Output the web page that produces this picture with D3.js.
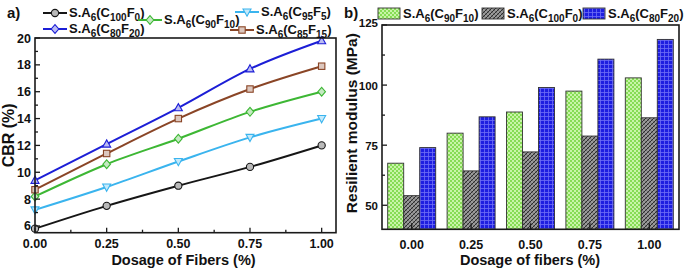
<!DOCTYPE html>
<html><head><meta charset="utf-8">
<script src="https://cdn.jsdelivr.net/npm/d3@7/dist/d3.min.js"></script>
<style>
body{margin:0;background:#fff}
svg{display:block;font-family:"Liberation Sans",Arial,sans-serif;font-weight:bold}
</style></head>
<body><svg id="c" width="685" height="272"></svg>
<script>
// ---------- data ----------
const dosage = [0, 0.25, 0.5, 0.75, 1.0];
const cbrTicks = [6, 8, 10, 12, 14, 16, 18, 20];
const dosageTicks = [0, 0.25, 0.5, 0.75, 1.0];
const cbrC100F0 = [5.8, 7.5, 9.0, 10.4, 12.0];
const cbrC95F5  = [7.2, 8.9, 10.8, 12.6, 14.0];
const cbrC90F10 = [8.2, 10.6, 12.5, 14.5, 16.0];
const cbrC85F15 = [8.7, 11.4, 14.0, 16.2, 17.9];
const cbrC80F20 = [9.4, 12.1, 14.8, 17.7, 19.8];

const dosageCats = ["0.00", "0.25", "0.50", "0.75", "1.00"];
const mrTicks = [50, 75, 100, 125];
const mrC90F10  = [67.5, 80.0, 88.8, 97.5, 103.0];
const mrC100F0  = [54.0, 64.3, 72.2, 78.8, 86.4];
const mrC80F20  = [74.0, 86.8, 99.0, 110.8, 119.0];

// label parts: [text, isSub]
const lab = (c, f) => [["S.A",0],["6",1],["(C",0],[c,1],["F",0],[f,1],[")",0]];

const svg = d3.select("#c");
const defs = svg.append("defs");

function richText(g, parts, x, y, size, subSize, anchor) {
  const t = g.append("text").attr("x", x).attr("y", y).attr("font-size", size)
    .attr("text-anchor", anchor || "start").attr("fill", "#111");
  let sub = false;
  parts.forEach(([s, isSub]) => {
    const ts = t.append("tspan").text(s);
    if (isSub && !sub) { ts.attr("dy", 3.5).attr("font-size", subSize); sub = true; }
    else if (isSub) { ts.attr("font-size", subSize); }
    else if (!isSub && sub) { ts.attr("dy", -3.5); sub = false; }
  });
  return t;
}

// ---------- markers ----------
function marker(g, type, x, y, color) {
  const s = 3.6;
  let el;
  if (type === "circle") el = g.append("circle").attr("cx", x).attr("cy", y).attr("r", s);
  else if (type === "square") el = g.append("rect").attr("x", x - s + 0.4).attr("y", y - s + 0.4).attr("width", 2*s - 0.8).attr("height", 2*s - 0.8);
  else {
    let pts;
    if (type === "diamond") pts = [[x, y - s - 0.8], [x + s + 0.2, y], [x, y + s + 0.8], [x - s - 0.2, y]];
    else if (type === "up") pts = [[x, y - s - 0.6], [x + s + 0.4, y + s - 0.6], [x - s - 0.4, y + s - 0.6]];
    else pts = [[x, y + s + 0.6], [x + s + 0.4, y - s + 0.6], [x - s - 0.4, y - s + 0.6]];
    el = g.append("polygon").attr("points", pts.map(p => p.join(",")).join(" "));
  }
  const f = d3.interpolateRgb(color, "#fff")(0.7);
  el.attr("fill", f).attr("stroke", color).attr("stroke-width", 1.1);
}

// ================= LEFT CHART (a) =================
const L = {x0: 35, x1: 336, y0: 38, y1: 232.7};
const xL = d3.scaleLinear().domain([0, 1.05]).range([L.x0, L.x1]);
const yL = d3.scaleLinear().domain([5.5, 20]).range([L.y1, L.y0]);
const gA = svg.append("g");

const seriesA = [
  {v: cbrC100F0, color: "#161616", m: "circle", lm: "circle", lab: lab("100","0")},
  {v: cbrC95F5,  color: "#3ab4ee", m: "down",   lm: "down",   lab: lab("95","5")},
  {v: cbrC90F10, color: "#3db734", m: "diamond",lm: "diamond",lab: lab("90","10")},
  {v: cbrC85F15, color: "#8a4526", m: "square", lm: "square", lab: lab("85","15")},
  {v: cbrC80F20, color: "#1c1ed6", m: "up",     lm: "diamond",lab: lab("80","20")}
];

const line = d3.line().x((d, i) => xL(dosage[i])).y(d => yL(d)).curve(d3.curveMonotoneX);
seriesA.forEach(s => {
  gA.append("path").attr("d", line(s.v)).attr("fill", "none").attr("stroke", s.color).attr("stroke-width", 2);
});
seriesA.forEach(s => {
  s.v.forEach((d, i) => marker(gA, s.m, xL(dosage[i]), yL(d), s.color));
});

// frame
gA.append("rect").attr("x", L.x0).attr("y", L.y0).attr("width", L.x1 - L.x0).attr("height", L.y1 - L.y0)
  .attr("fill", "none").attr("stroke", "#1a1a1a").attr("stroke-width", 1.6);

// y ticks
d3.range(6, 20.01, 1).forEach(v => {
  const major = cbrTicks.includes(v);
  gA.append("line").attr("x1", L.x0).attr("x2", L.x0 + (major ? 5 : 3)).attr("y1", yL(v)).attr("y2", yL(v))
    .attr("stroke", "#1a1a1a").attr("stroke-width", 1.3);
});
cbrTicks.forEach(v => {
  gA.append("text").attr("x", L.x0 - 4).attr("y", yL(v) + 4.5).attr("text-anchor", "end")
    .attr("font-size", 12.5).attr("fill", "#111").text(v);
});
// x ticks
d3.range(0, 1.001, 0.125).forEach(v => {
  const major = Math.abs(v * 4 - Math.round(v * 4)) < 1e-6;
  gA.append("line").attr("x1", xL(v)).attr("x2", xL(v)).attr("y1", L.y1).attr("y2", L.y1 - (major ? 5 : 3))
    .attr("stroke", "#1a1a1a").attr("stroke-width", 1.3);
});
dosageTicks.forEach(v => {
  gA.append("text").attr("x", xL(v)).attr("y", L.y1 + 15).attr("text-anchor", "middle")
    .attr("font-size", 12.5).attr("fill", "#111").text(d3.format(".2f")(v));
});
gA.append("text").attr("x", (L.x0 + L.x1) / 2 - 2).attr("y", 265).attr("text-anchor", "middle")
  .attr("font-size", 14.5).attr("fill", "#111").text("Dosage of Fibers (%)");
gA.append("text").attr("transform", `translate(14,${(L.y0 + L.y1) / 2}) rotate(-90)`).attr("text-anchor", "middle")
  .attr("font-size", 16).attr("fill", "#111").text("CBR (%)");
gA.append("text").attr("x", 7).attr("y", 18).attr("font-size", 15).attr("fill", "#111").text("a)");

// legend (a)
const legA = [
  {s: seriesA[0], x: 43, y: 13},
  {s: seriesA[2], x: 138, y: 20},
  {s: seriesA[1], x: 235, y: 12},
  {s: seriesA[4], x: 43, y: 29},
  {s: seriesA[3], x: 230, y: 30}
];
legA.forEach(({s, x, y}) => {
  gA.append("line").attr("x1", x).attr("x2", x + 24).attr("y1", y).attr("y2", y).attr("stroke", s.color).attr("stroke-width", 2);
  marker(gA, s.lm, x + 12, y, s.color);
  richText(gA, s.lab, x + 26, y + 4, 13, 10);
});

// ================= RIGHT CHART (b) =================
const R = {x0: 382, x1: 679, y0: 25, y1: 229.3};
const xR = d3.scalePoint().domain(dosageCats).range([R.x0, R.x1]).padding(0.5);
const yR = d3.scaleLinear().domain([40, 125]).range([R.y1, R.y0]);
const gB = svg.append("g");

// patterns
function pat(id, bg, draw) {
  const p = defs.append("pattern").attr("id", id).attr("patternUnits", "userSpaceOnUse").attr("width", 4).attr("height", 4);
  p.append("rect").attr("width", 4).attr("height", 4).attr("fill", bg);
  draw(p);
}
pat("pGreen", "#86dc55", p => {
  p.append("rect").attr("x", 0).attr("y", 0).attr("width", 2).attr("height", 2).attr("fill", "#c8f5a8");
  p.append("rect").attr("x", 2).attr("y", 2).attr("width", 2).attr("height", 2).attr("fill", "#c8f5a8");
});
pat("pGray", "#9a9a9a", p => {
  p.append("path").attr("d", "M-1,1 L1,-1 M0,4 L4,0 M3,5 L5,3").attr("stroke", "#2e2e2e").attr("stroke-width", 1);
  p.append("path").attr("d", "M-1,3 L1,5 M0,0 L4,4 M3,-1 L5,1").attr("stroke", "#5a5a5a").attr("stroke-width", 0.6);
});
pat("pBlue", "#1e1ee0", p => {
  p.append("path").attr("d", "M0,0.5 H4 M0.5,0 V4").attr("stroke", "#6f6ff5").attr("stroke-width", 0.8);
});

const seriesB = [
  {v: mrC90F10, fill: "url(#pGreen)", lab: lab("90","10")},
  {v: mrC100F0, fill: "url(#pGray)",  lab: lab("100","0")},
  {v: mrC80F20, fill: "url(#pBlue)",  lab: lab("80","20")}
];
const bw = 16;
seriesB.forEach((s, k) => {
  s.v.forEach((d, i) => {
    const cx = xR(dosageCats[i]) + (k - 1) * bw;
    gB.append("rect").attr("x", cx - bw / 2).attr("y", yR(d)).attr("width", bw).attr("height", R.y1 - yR(d))
      .attr("fill", s.fill).attr("stroke", "#333").attr("stroke-width", 0.9);
  });
});

gB.append("rect").attr("x", R.x0).attr("y", R.y0).attr("width", R.x1 - R.x0).attr("height", R.y1 - R.y0)
  .attr("fill", "none").attr("stroke", "#1a1a1a").attr("stroke-width", 1.6);

d3.range(50, 125.01, 12.5).forEach(v => {
  const major = mrTicks.includes(v);
  gB.append("line").attr("x1", R.x0).attr("x2", R.x0 + (major ? 5 : 3)).attr("y1", yR(v)).attr("y2", yR(v))
    .attr("stroke", "#1a1a1a").attr("stroke-width", 1.3);
});
mrTicks.forEach(v => {
  gB.append("text").attr("x", R.x0 - 4).attr("y", yR(v) + (v === 125 ? 2 : 4.5)).attr("text-anchor", "end")
    .attr("font-size", 11.5).attr("fill", "#111").text(v);
});
dosageCats.forEach(c => {
  gB.append("line").attr("x1", xR(c)).attr("x2", xR(c)).attr("y1", R.y1).attr("y2", R.y1 - 6)
    .attr("stroke", "#1a1a1a").attr("stroke-width", 1.3);
  gB.append("text").attr("x", xR(c)).attr("y", R.y1 + 20).attr("text-anchor", "middle")
    .attr("font-size", 12.5).attr("fill", "#111").text(c);
});
gB.append("text").attr("x", 530).attr("y", 265).attr("text-anchor", "middle")
  .attr("font-size", 14.5).attr("fill", "#111").text("Dosage of fibers (%)");
gB.append("text").attr("transform", `translate(357,${(R.y0 + R.y1) / 2 - 4}) rotate(-90)`).attr("text-anchor", "middle")
  .attr("font-size", 15.5).attr("fill", "#111").text("Resilient modulus (MPa)");
gB.append("text").attr("x", 344).attr("y", 18).attr("font-size", 15).attr("fill", "#111").text("b)");

const legB = [
  {s: seriesB[0], x: 378},
  {s: seriesB[1], x: 482},
  {s: seriesB[2], x: 583}
];
legB.forEach(({s, x}) => {
  gB.append("rect").attr("x", x).attr("y", 8).attr("width", 22).attr("height", 11)
    .attr("fill", s.fill).attr("stroke", "#333").attr("stroke-width", 0.9);
  richText(gB, s.lab, x + 25, 18, 13, 10);
});
</script></body></html>
